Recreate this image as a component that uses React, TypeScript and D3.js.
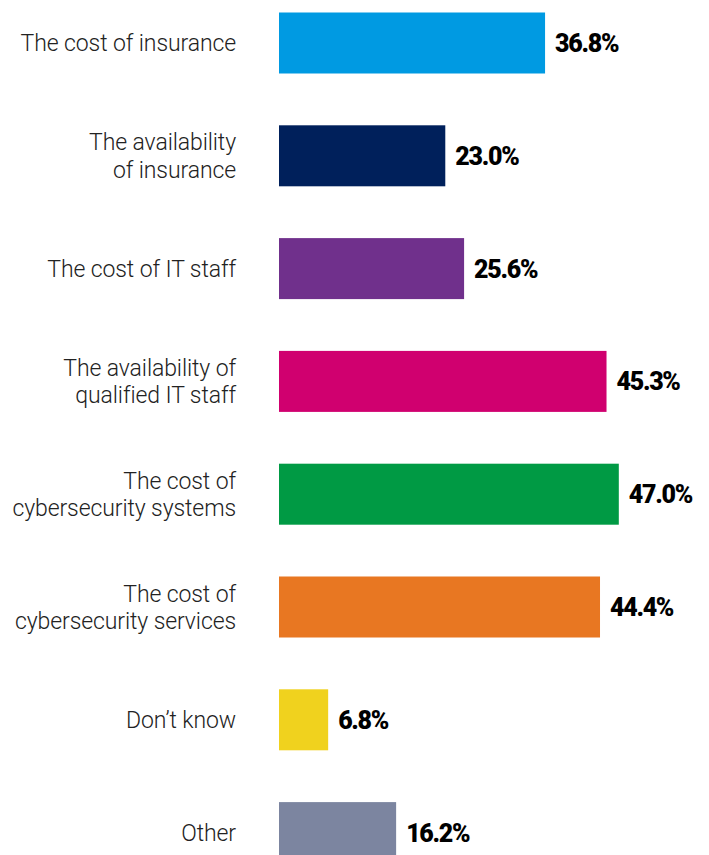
import React from "react";
import * as d3 from "d3";

const categories: string[][] = [
  ["The cost of insurance"],
  ["The availability", "of insurance"],
  ["The cost of IT staff"],
  ["The availability of", "qualified IT staff"],
  ["The cost of", "cybersecurity systems"],
  ["The cost of", "cybersecurity services"],
  ["Don\u2019t know"],
  ["Other"],
];
const values: number[] = [36.8, 23.0, 25.6, 45.3, 47.0, 44.4, 6.8, 16.2];
const colors: string[] = [
  "#009ae2",
  "#00205b",
  "#70308c",
  "#d0006f",
  "#009a44",
  "#e87722",
  "#f0d21e",
  "#7c85a0",
];

const W = 709;
const H = 855;
const x0 = 279;
const top = 12.5;
const step = 112.8;

export default function App() {
  const x = d3.scaleLinear().domain([0, 10]).range([0, 72.3]);
  const y = d3
    .scaleBand<number>()
    .domain(d3.range(values.length))
    .range([top, top + step * values.length])
    .paddingInner(1 - 61 / step)
    .paddingOuter((1 - 61 / step) / 2);
  const shift = top - (y(0) as number);
  return (
    <svg
      width={W}
      height={H}
      style={{ position: "absolute", left: 0, top: 0, display: "block" }}
    >
      <rect width={W} height={H} fill="#fff" />
      {values.map((v, i) => {
        const by = (y(i) as number) + shift;
        const bh = y.bandwidth();
        const cy = by + bh / 2;
        const lines = categories[i];
        const lh = 27.5;
        return (
          <g key={i}>
            <rect x={x0} y={by} width={x(v)} height={bh} fill={colors[i]} />
            <text
              x={x0 + x(v) + 10}
              y={cy}
              dy="0.36em"
              fontFamily="Roboto, sans-serif"
              fontWeight={900}
              fontSize={25}
              letterSpacing={-1.3}
              fill="#000"
            >
              {v.toFixed(1)}%
            </text>
            {lines.map((t, j) => (
              <text
                key={j}
                x={236}
                y={cy + (j - (lines.length - 1) / 2) * lh}
                dy="0.36em"
                textAnchor="end"
                fontFamily="Roboto, sans-serif"
                fontWeight={300}
                fontSize={23}
                letterSpacing={-0.1}
                fill="#222"
              >
                {t}
              </text>
            ))}
          </g>
        );
      })}
    </svg>
  );
}
